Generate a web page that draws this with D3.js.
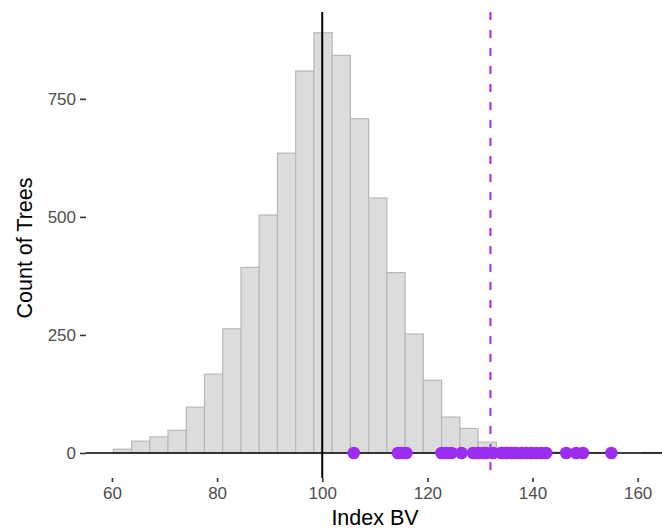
<!DOCTYPE html>
<html>
<head>
<meta charset="utf-8">
<script src="https://cdn.jsdelivr.net/npm/d3@7"></script>
<style>
  html, body { margin: 0; padding: 0; background: #ffffff; }
  svg { display: block; }
</style>
</head>
<body>
<svg id="chart" width="662" height="531"></svg>
<script>
// ---- data ----
const binStart = 60.25;      // left edge of first histogram bin (Index BV)
const binWidth = 3.47;       // width of each bin (Index BV units)
const binCounts = [8, 25, 34, 48, 97, 167, 263, 393, 504, 635, 809, 890, 842, 708, 540,
                   382, 252, 154, 76, 52, 23, 12, 7, 4, 2, 1, 1, 0, 0, 1];
const selectedTrees = [106.0, 114.4, 115.1, 116.0, 122.7, 123.6, 124.6, 126.5, 128.7, 129.6,
                       130.6, 131.2, 132.5, 134.1, 135.0, 136.0, 136.9, 137.9, 138.8, 139.8,
                       140.7, 141.7, 142.6, 146.4, 148.3, 149.6, 155.0];
const meanLine = 100;
const thresholdLine = 132;
const xTicks = [60, 80, 100, 120, 140, 160];
const yTicks = [0, 250, 500, 750];
const xTitle = "Index BV";
const yTitle = "Count of Trees";

// ---- layout ----
const panel = { left: 86, right: 686, top: 12, bottom: 478 };
const svg = d3.select("#chart");
const font = "Liberation Sans, Arial, Helvetica, sans-serif";

const x = d3.scaleLinear().domain([55.06, 169.2]).range([panel.left, panel.right]);
const y = d3.scaleLinear().domain([-53, 934]).range([panel.bottom, panel.top]);

const bins = binCounts.map((c, i) => ({ x0: binStart + i * binWidth, x1: binStart + (i + 1) * binWidth, count: c }));

const g = svg.append("g");

// histogram bars
g.selectAll("rect.bar").data(bins).enter().append("rect")
  .attr("class", "bar")
  .attr("x", d => x(d.x0))
  .attr("width", d => x(d.x1) - x(d.x0))
  .attr("y", d => y(d.count))
  .attr("height", d => y(0) - y(d.count))
  .attr("fill", "#dcdcdc")
  .attr("stroke", "#b8b8b8")
  .attr("stroke-width", 1.2);

// reference lines
g.append("line")
  .attr("x1", panel.left).attr("x2", panel.right)
  .attr("y1", y(0)).attr("y2", y(0))
  .attr("stroke", "#000").attr("stroke-width", 1.7);
g.append("line")
  .attr("x1", x(meanLine)).attr("x2", x(meanLine))
  .attr("y1", panel.top).attr("y2", panel.bottom)
  .attr("stroke", "#000").attr("stroke-width", 2);

// selected trees
g.selectAll("circle.pt").data(selectedTrees).enter().append("circle")
  .attr("class", "pt")
  .attr("cx", d => x(d))
  .attr("cy", y(0))
  .attr("r", 6.3)
  .attr("fill", "#9b2df0");

// threshold dashed line
g.append("line")
  .attr("x1", x(thresholdLine)).attr("x2", x(thresholdLine))
  .attr("y1", panel.top).attr("y2", panel.bottom)
  .attr("stroke", "#9b2df0").attr("stroke-width", 2)
  .attr("stroke-dasharray", "8,10");

// x axis
const xAxis = d3.axisBottom(x).tickValues(xTicks).tickSize(4).tickPadding(5).tickFormat(d3.format("d"));
const xg = svg.append("g").attr("transform", `translate(0,${panel.bottom})`).call(xAxis);
xg.select(".domain").remove();
xg.selectAll(".tick line").attr("stroke", "#333").attr("stroke-width", 1.6);
xg.selectAll(".tick text").attr("fill", "#4d4d4d")
  .style("font-family", font).style("font-size", "17px");

// y axis
const yAxis = d3.axisLeft(y).tickValues(yTicks).tickSize(6).tickPadding(4).tickFormat(d3.format("d"));
const yg = svg.append("g").attr("transform", `translate(${panel.left},0)`).call(yAxis);
yg.select(".domain").remove();
yg.selectAll(".tick line").attr("stroke", "#333").attr("stroke-width", 1.6);
yg.selectAll(".tick text").attr("fill", "#4d4d4d")
  .style("font-family", font).style("font-size", "17px");

// titles
svg.append("text")
  .attr("x", 375).attr("y", 525)
  .attr("text-anchor", "middle")
  .style("font-family", font).style("font-size", "21.5px")
  .attr("fill", "#000").text(xTitle);
svg.append("text")
  .attr("transform", "translate(32,248) rotate(-90)")
  .attr("text-anchor", "middle")
  .style("font-family", font).style("font-size", "21.5px")
  .attr("fill", "#000").text(yTitle);
</script>
</body>
</html>
